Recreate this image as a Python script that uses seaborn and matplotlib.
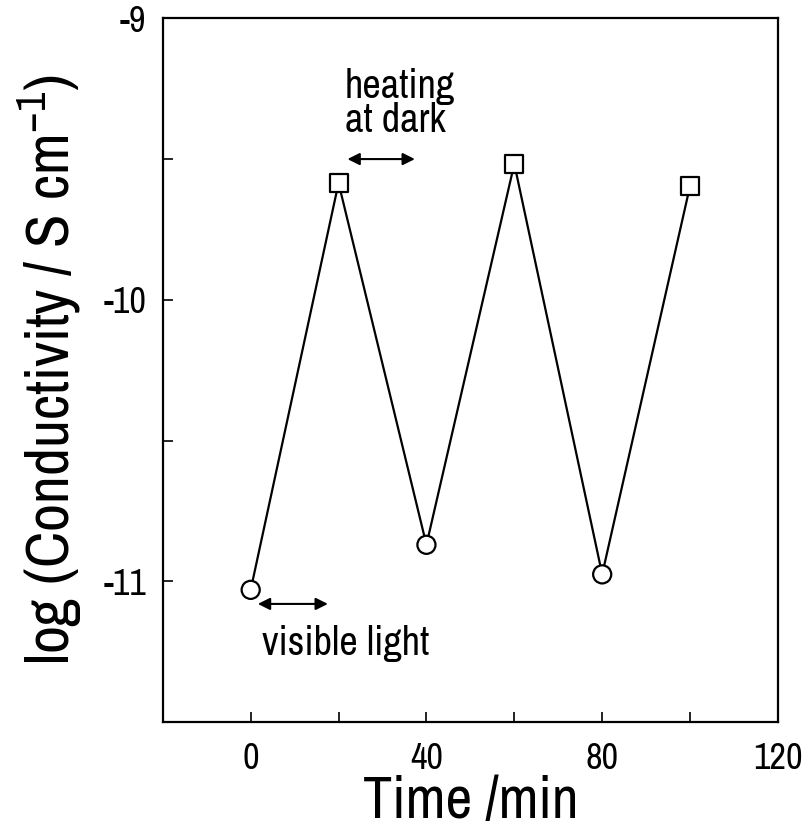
import matplotlib
matplotlib.use("Agg")
import matplotlib.pyplot as plt
import seaborn as sns
import pandas as pd
from matplotlib.ticker import FixedLocator

sns.set_theme(style="white")
plt.rcParams['font.family'] = ['Archivo Narrow', 'Liberation Sans', 'DejaVu Sans']
plt.rcParams['axes.unicode_minus'] = False
plt.rcParams['mathtext.fontset'] = 'custom'
plt.rcParams['mathtext.rm'] = 'Archivo Narrow'

time_min = [0, 20, 40, 60, 80, 100]
log_cond = [-11.03, -9.585, -10.87, -9.517, -10.975, -9.595]
state = ['light', 'dark', 'light', 'dark', 'light', 'dark']

df = pd.DataFrame({'time': time_min, 'logc': log_cond, 'state': state})

fig = plt.figure(figsize=(8.02, 8.32), dpi=100)
ax = fig.add_axes([0.203, 0.132, 0.767, 0.846])

sns.lineplot(data=df, x='time', y='logc', color='black', linewidth=1.6, ax=ax, sort=False)
sns.scatterplot(data=df, x='time', y='logc', style='state', markers={'light': 'o', 'dark': 's'},
                s=170, facecolor='white', edgecolor='black', linewidth=1.6, legend=False, ax=ax, zorder=5)

ax.set_xlim(-20, 120)
ax.set_ylim(-11.5, -9)
ax.xaxis.set_major_locator(FixedLocator([0, 40, 80, 120]))
ax.xaxis.set_minor_locator(FixedLocator([20, 60, 100]))
ax.yaxis.set_major_locator(FixedLocator([-11, -10, -9]))
ax.yaxis.set_minor_locator(FixedLocator([-10.5, -9.5]))
ax.tick_params(axis='both', which='both', direction='in', length=7, width=1.2, labelsize=26, color='black', labelcolor='black')
ax.tick_params(axis='x', which='both', pad=14)
ax.tick_params(axis='y', which='both', pad=12)
ax.tick_params(axis='both', which='both', top=False, right=False, bottom=True, left=True)
for s in ax.spines.values():
    s.set_color('black')
    s.set_linewidth(1.6)

ax.set_xlabel('Time /min', fontsize=42, labelpad=0, color='black')
ax.set_ylabel(r'log (Conductivity / S cm$^{\mathregular{-1}}$)', fontsize=44, labelpad=14, color='black')

arrowprops = dict(arrowstyle='<|-|>', color='black', lw=1.5, mutation_scale=18)
ax.annotate('', xy=(21.4, -9.5), xytext=(38, -9.5), arrowprops=arrowprops)
ax.annotate('', xy=(1.0, -11.08), xytext=(18.2, -11.08), arrowprops=arrowprops)
ax.text(21.4, -9.43, 'heating\nat dark', fontsize=29, ha='left', va='bottom', linespacing=0.9, color='black')
ax.text(2.5, -11.22, 'visible light', fontsize=29, ha='left', va='center', color='black')

fig.savefig('out.png', dpi=100)
